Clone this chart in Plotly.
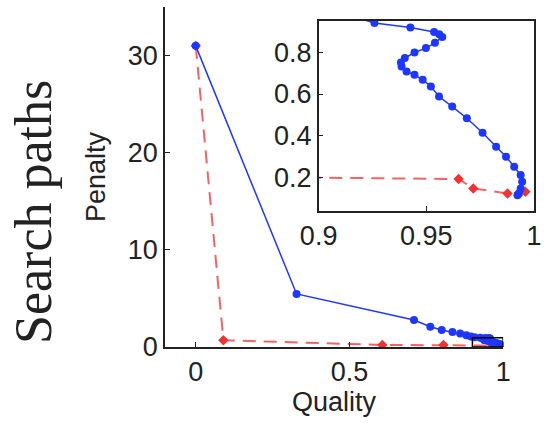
import plotly.graph_objects as go

# Main plot data (Quality vs Penalty)
blue_q = [0.0, 0.328, 0.710, 0.763, 0.800, 0.835, 0.860, 0.880, 0.895, 0.907,
          0.9259, 0.9426, 0.9536, 0.9560, 0.9574, 0.9540, 0.9498, 0.9445, 0.9400, 0.9382,
          0.9385, 0.9408, 0.9445, 0.9483, 0.9521, 0.9559, 0.9620, 0.9688, 0.9761,
          0.9824, 0.9870, 0.9908, 0.9938, 0.9945, 0.9938, 0.9930, 0.9923]
blue_p = [31.0, 5.46, 2.78, 2.09, 1.75, 1.55, 1.38, 1.22, 1.08, 1.00,
          0.940, 0.919, 0.897, 0.886, 0.873, 0.845, 0.820, 0.799, 0.772, 0.751,
          0.732, 0.708, 0.692, 0.668, 0.636, 0.588, 0.540, 0.484, 0.415,
          0.348, 0.300, 0.252, 0.212, 0.180, 0.148, 0.124, 0.116]

red_q = [0.0, 0.090, 0.607, 0.806, 0.965, 0.9718, 0.9877, 0.993, 0.996]
red_p = [31.0, 0.70, 0.209, 0.209, 0.193, 0.148, 0.124, 0.128, 0.132]

main_xticks = [0, 0.5, 1]
main_xticklabels = ["0", "0.5", "1"]
main_yticks = [0, 10, 20, 30]
inset_xticks = [0.9, 0.95, 1.0]
inset_xticklabels = ["0.9", "0.95", "1"]
inset_yticks = [0.2, 0.4, 0.6, 0.8]
inset_yticklabels = ["0.2", "0.4", "0.6", "0.8"]

BLUE = "rgb(30,55,255)"
RED = "rgb(240,50,50)"
RED_LINE = "rgba(240,60,60,0.8)"
FONT = "Liberation Sans, Arial, sans-serif"
FS = 27

fig = go.Figure()

for xa, ya in [("x", "y"), ("x2", "y2")]:
    fig.add_trace(go.Scatter(x=red_q, y=red_p, mode="lines+markers", xaxis=xa, yaxis=ya,
                             line=dict(color=RED_LINE, width=2, dash="13px,8px"),
                             marker=dict(symbol="diamond", size=8, color=RED),
                             cliponaxis=True, showlegend=False))
    fig.add_trace(go.Scatter(x=blue_q, y=blue_p, mode="lines+markers", xaxis=xa, yaxis=ya,
                             line=dict(color=BLUE, width=1.5),
                             marker=dict(symbol="circle", size=8, color=BLUE),
                             cliponaxis=True, showlegend=False))

axis_common = dict(showgrid=False, zeroline=False, showline=True, linecolor="#222",
                   linewidth=1.5, ticks="inside", ticklen=5, tickwidth=1.3, tickcolor="#222",
                   tickfont=dict(family=FONT, size=FS, color="#222"))

fig.update_layout(
    width=550, height=423,
    margin=dict(l=165, r=5, t=7, b=76),
    paper_bgcolor="white", plot_bgcolor="white",
    xaxis=dict(domain=[0, 0.909], range=[-0.1, 1.0], tickvals=main_xticks,
               ticktext=main_xticklabels, anchor="y",
               title=dict(text="Quality", font=dict(family=FONT, size=FS, color="#222"), standoff=2),
               **axis_common),
    yaxis=dict(domain=[0, 1], range=[0, 35], tickvals=main_yticks, anchor="x",
               title=dict(text="Penalty", font=dict(family=FONT, size=FS, color="#222"), standoff=14),
               **axis_common),
    xaxis2=dict(domain=[0.413, 0.992], range=[0.9, 1.0], tickvals=inset_xticks,
                ticktext=inset_xticklabels, anchor="y2", mirror=True, **axis_common),
    yaxis2=dict(domain=[0.4, 0.959], range=[0.04, 0.95], tickvals=inset_yticks,
                ticktext=inset_yticklabels, anchor="x2", mirror=True, **axis_common),
    shapes=[dict(type="rect", xref="x", yref="y", x0=0.9, x1=1.0, y0=0.0, y1=0.95,
                 line=dict(color="black", width=1.5))],
    annotations=[dict(text="Search paths", textangle=-90, xref="paper", yref="paper",
                      x=-0.355, y=0.397, xanchor="center", yanchor="middle", showarrow=False,
                      font=dict(family="Liberation Serif, Times New Roman, serif", size=52,
                                color="#222"))],
)

fig.write_html("out.html")
